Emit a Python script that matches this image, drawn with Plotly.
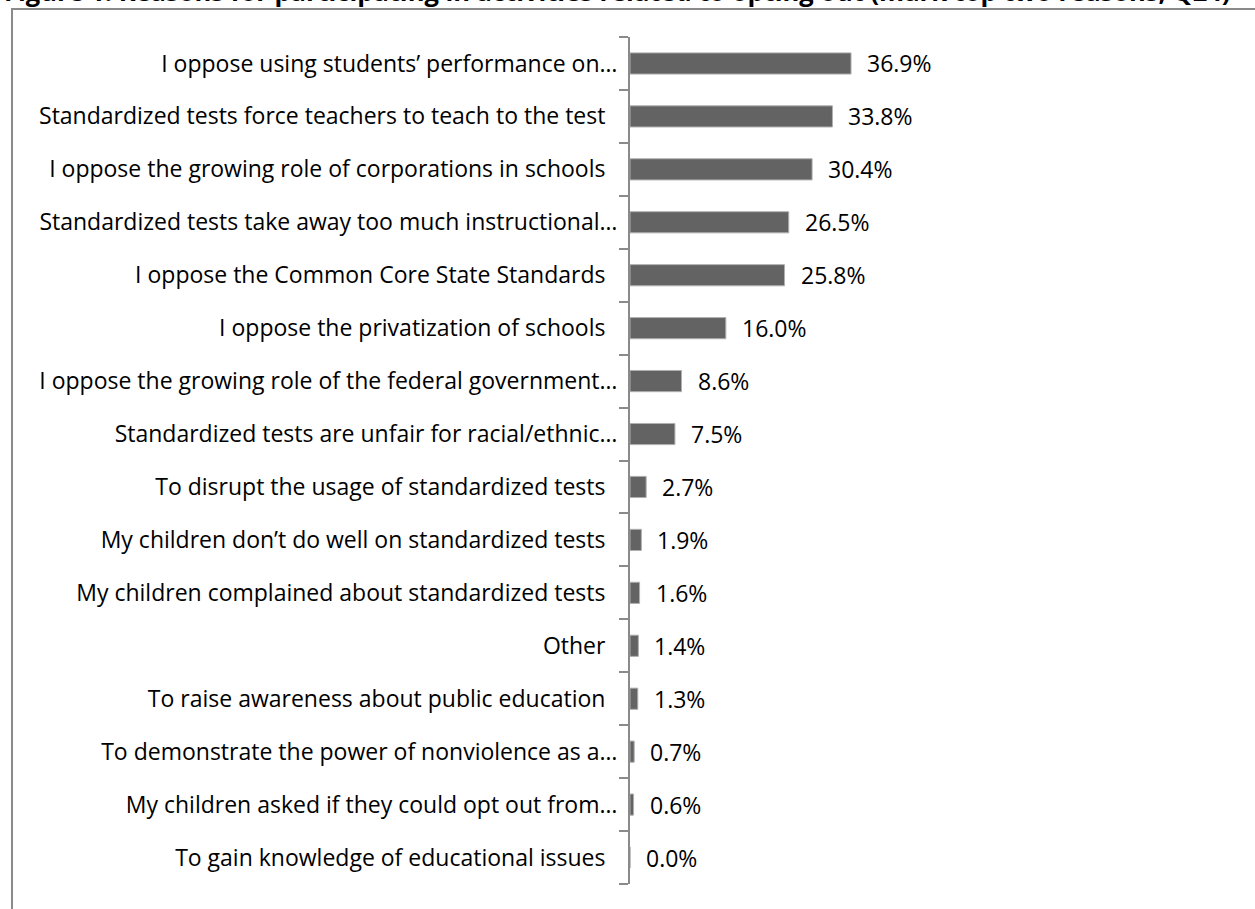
import plotly.graph_objects as go

# Survey results: reasons for opting out (top two reasons, Q24)
reasons = [
    "I oppose using students\u2019 performance on\u2026",
    "Standardized tests force teachers to teach to the test",
    "I oppose the growing role of corporations in schools",
    "Standardized tests take away too much instructional\u2026",
    "I oppose the Common Core State Standards",
    "I oppose the privatization of schools",
    "I oppose the growing role of the federal government\u2026",
    "Standardized tests are unfair for racial/ethnic\u2026",
    "To disrupt the usage of standardized tests",
    "My children don\u2019t do well on standardized tests",
    "My children complained about standardized tests",
    "Other",
    "To raise awareness about public education",
    "To demonstrate the power of nonviolence as a\u2026",
    "My children asked if they could opt out from\u2026",
    "To gain knowledge of educational issues",
]
percent = [36.9, 33.8, 30.4, 26.5, 25.8, 16.0, 8.6, 7.5, 2.7, 1.9, 1.6, 1.4, 1.3, 0.7, 0.6, 0.0]

title_text = ("Figure 1: Reasons for participating in activities related to opting out "
              "(mark top two reasons, Q24)")

FONT = "'Open Sans', sans-serif"
FS = 23

# full labels carry a little trailing space so the truncated ones sit closer to the axis
tick_text = [r if r.endswith("\u2026") else r + "\u00a0\u00a0" for r in reasons]

fig = go.Figure(
    go.Bar(
        x=percent,
        y=reasons,
        orientation="h",
        width=0.4,
        marker=dict(color="#636363", line=dict(color="#b0b0b0", width=1)),
        hoverinfo="skip",
    )
)

for r, v in zip(reasons, percent):
    fig.add_annotation(
        x=v, y=r, xref="x", yref="y",
        text=f"{v:.1f}%", showarrow=False,
        xanchor="left", xshift=14,
        font=dict(family=FONT, size=FS, color="#000000"),
    )

# outer frame of the figure box
fig.add_shape(
    type="rect", xref="paper", yref="paper",
    x0=-1.0317, x1=2.0, y0=-1.0, y1=1.0331,
    line=dict(color="#8a8a8a", width=2), fillcolor="rgba(0,0,0,0)",
    layer="below",
)

fig.add_annotation(
    text=f"<b>{title_text}</b>", xref="paper", yref="paper",
    x=-1.0484, y=1.0322, xanchor="left", yanchor="bottom", showarrow=False,
    font=dict(family=FONT, size=25.5, color="#000000"),
)

fig.update_layout(
    width=1255, height=909,
    margin=dict(l=630, r=26, t=37, b=25),
    paper_bgcolor="white", plot_bgcolor="white",
    showlegend=False,
    bargap=0.6,
    xaxis=dict(range=[0, 100], visible=False, fixedrange=True),
    yaxis=dict(
        type="category",
        autorange="reversed",
        tickmode="array", tickvals=reasons, ticktext=tick_text,
        tickson="boundaries",
        ticks="outside", ticklen=9, tickwidth=1.5, tickcolor="#8a8a8a",
        showline=True, linecolor="#8a8a8a", linewidth=2,
        showgrid=False, zeroline=False,
        tickfont=dict(family=FONT, size=FS, color="#000000"),
        ticklabelstandoff=6,
    ),
)

fig.write_html("out.html")
